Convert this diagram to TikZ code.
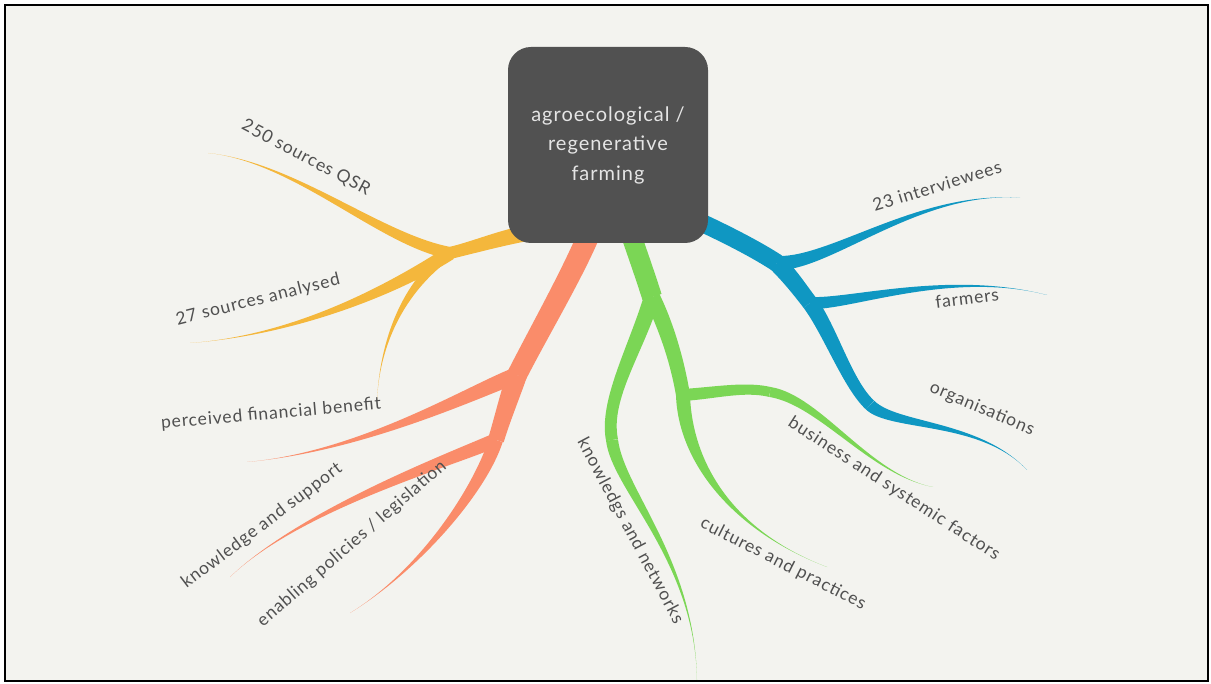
\documentclass[tikz,border=0pt]{standalone}
\usepackage{fontspec}
\setmainfont{Lato}[LetterSpace=5]
\usetikzlibrary{calc}
\definecolor{paper}{HTML}{F3F3EF}
\definecolor{hubGray}{HTML}{515151}
\definecolor{labelGray}{HTML}{505050}
\definecolor{mapYellow}{HTML}{F4B73C}
\definecolor{mapOrange}{HTML}{FA8C6A}
\definecolor{mapGreen}{HTML}{7BD655}
\definecolor{mapBlue}{HTML}{0F97C2}

% tapered limb: colour, start, control 1, control 2, end, half width at start, half width at end
\newcommand{\limb}[7]{%
  \fill[#1] ($(#2)!#6!90:(#3)$) .. controls ($(#3)!#6!-90:(#2)$) and ($(#4)!#7!90:(#5)$) .. ($(#5)!#7!-90:(#4)$)
    -- ($(#5)!#7!90:(#4)$) .. controls ($(#4)!#7!-90:(#5)$) and ($(#3)!#6!90:(#2)$) .. ($(#2)!#6!-90:(#3)$) -- cycle;}

\begin{document}
\begin{tikzpicture}[x=1pt, y=-1pt,
    hub/.style={fill=hubGray, rounded corners=23pt, minimum width=200pt, minimum height=196pt,
      inner sep=0pt, align=center, text=white!90!black, font=\fontsize{20}{29.5}\selectfont},
    lbl/.style={text=labelGray, inner sep=0pt, font=\fontsize{17.5}{19}\selectfont},
  ]
  \useasboundingbox (0,0) rectangle (1211,684);
  \fill[white] (0,0) rectangle (1211,684);
  \draw[line width=2.5pt, fill=paper] (5,5) rectangle (1208,681);

  % yellow
  \coordinate (yroot) at (532,232);
  \coordinate (yfork) at (450,253);
  \coordinate (qsrTip) at (208,153);
  \coordinate (anTip) at (190,343);
  \coordinate (yfinTip) at (377,400);
  \limb{mapYellow}{yroot}{500,238}{475,247}{yfork}{8pt}{6pt}
  \limb{mapYellow}{yfork}{380,240}{295,162}{qsrTip}{6pt}{0pt}
  \limb{mapYellow}{yfork}{400,285}{300,335}{anTip}{7pt}{0pt}
  \limb{mapYellow}{yfork}{405,285}{380,340}{yfinTip}{5pt}{0pt}

  % orange
  \coordinate (oroot) at (590,232);
  \coordinate (ofork) at (517,375);
  \coordinate (ofork2) at (496,440);
  \coordinate (finTip) at (247,462);
  \coordinate (supTip) at (230,577);
  \coordinate (polTip) at (350,613);
  \limb{mapOrange}{oroot}{572,275}{540,330}{ofork}{11pt}{10pt}
  \limb{mapOrange}{ofork}{470,393}{360,452}{finTip}{8pt}{0pt}
  \limb{mapOrange}{ofork}{510,395}{502,420}{ofork2}{10pt}{8pt}
  \limb{mapOrange}{ofork2}{450,460}{300,510}{supTip}{7pt}{0pt}
  \limb{mapOrange}{ofork2}{480,490}{420,570}{polTip}{7pt}{0pt}

  % green
  \coordinate (groot) at (630,232);
  \coordinate (gfork) at (652,297);
  \coordinate (gbend) at (612,440);
  \coordinate (netTip) at (697,680);
  \coordinate (gfork2) at (683,395);
  \coordinate (gbend2) at (770,392);
  \coordinate (sysTip) at (933,487);
  \coordinate (pracTip) at (827,567);
  \limb{mapGreen}{groot}{638,255}{646,278}{gfork}{10pt}{10pt}
  \limb{mapGreen}{gfork}{636,350}{604,400}{gbend}{8pt}{6pt}
  \limb{mapGreen}{gbend}{618,490}{695,560}{netTip}{6pt}{0pt}
  \limb{mapGreen}{gfork}{668,330}{678,365}{gfork2}{8pt}{7pt}
  \limb{mapGreen}{gfork2}{715,393}{745,386}{gbend2}{6pt}{5pt}
  \limb{mapGreen}{gbend2}{820,400}{870,475}{sysTip}{5pt}{0pt}
  \limb{mapGreen}{gfork2}{685,460}{730,530}{pracTip}{7pt}{0pt}

  % blue
  \coordinate (broot) at (700,222);
  \coordinate (bfork) at (777,263);
  \coordinate (bfork2) at (810,303);
  \coordinate (bbend) at (870,405);
  \coordinate (intTip) at (1020,198);
  \coordinate (farmTip) at (1047,295);
  \coordinate (orgTip) at (1027,470);
  \limb{mapBlue}{broot}{730,236}{757,250}{bfork}{9pt}{9pt}
  \limb{mapBlue}{bfork}{830,265}{920,190}{intTip}{7pt}{0pt}
  \limb{mapBlue}{bfork}{790,276}{800,290}{bfork2}{9pt}{8pt}
  \limb{mapBlue}{bfork2}{850,305}{950,270}{farmTip}{6pt}{0pt}
  \limb{mapBlue}{bfork2}{830,330}{848,385}{bbend}{8pt}{6pt}
  \limb{mapBlue}{bbend}{893,428}{980,420}{orgTip}{6pt}{0pt}

  \node[hub] (hub) at (608,145) {agroecological /\\regenerative\\farming};

  \node[lbl, rotate=-28] (qsr) at (306,158) {250 sources QSR};
  \node[lbl, rotate=14] (analysed) at (258,300) {27 sources analysed};
  \node[lbl, rotate=5] (benefit) at (271,414) {perceived financial benefit};
  \node[lbl, rotate=37] (support) at (262,526) {knowledge and support};
  \node[lbl, rotate=41] (policies) at (352,544) {enabling policies / legislation};
  \node[lbl, rotate=-62] (networks) at (630,531) {knowledgs and networks};
  \node[lbl, rotate=-27] (practices) at (783,564) {cultures and practices};
  \node[lbl, rotate=-33] (systemic) at (894,489) {business and systemic factors};
  \node[lbl, rotate=17] (interviewees) at (937,186) {23 interviewees};
  \node[lbl, rotate=7] (farmers) at (967,298) {farmers};
  \node[lbl, rotate=-23] (organisations) at (982,409) {organisations};
\end{tikzpicture}
\end{document}
